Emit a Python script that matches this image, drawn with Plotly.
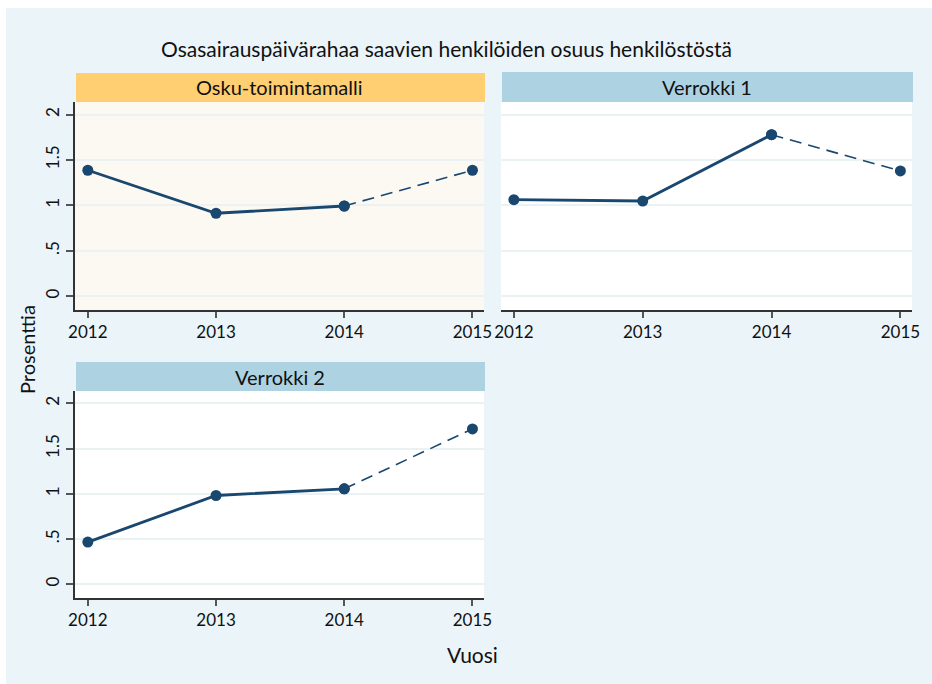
import plotly.graph_objects as go

W, H = 932, 684
years = [2012, 2013, 2014, 2015]
panels = ["Osku-toimintamalli", "Verrokki 1", "Verrokki 2"]
osku = [1.386, 0.912, 0.992, 1.386]
verrokki1 = [1.062, 1.047, 1.778, 1.378]
verrokki2 = [0.465, 0.981, 1.055, 1.718]
series = [osku, verrokki1, verrokki2]
ytick_vals = [0, 0.5, 1, 1.5, 2]
ytick_text = ["0", ".5", "1", "1.5", "2"]

NAVY = "#1a476f"
FONT = "Lato"
DARK = "#111111"

def px(x):
    return x / W

def py(y):
    return 1 - y / H

fig = go.Figure()

# panel geometry in pixels: (x0, x1, ytop, ybottom, strip_top)
geo = [
    (75, 484, 102, 310, 73),
    (501, 912, 102, 310, 72),
    (75, 484, 391, 598, 362),
]
strip_colors = ["#FFCF72", "#ADD3E3", "#ADD3E3"]
plot_bgs = ["#FCF9F3", "#FFFFFF", "#FFFFFF"]

shapes = [dict(type="rect", xref="paper", yref="paper", x0=px(6), x1=1, y0=0, y1=py(8),
               fillcolor="#EAF4F9", line=dict(width=0), layer="below")]
annotations = []

for i, (name, vals) in enumerate(zip(panels, series)):
    n = "" if i == 0 else str(i + 1)
    xa = "x" + n
    ya = "y" + n
    x0, x1, yt, yb, st = geo[i]
    shapes.append(dict(type="rect", xref="paper", yref="paper", x0=px(x0), x1=px(x1),
                       y0=py(yb), y1=py(yt), fillcolor=plot_bgs[i], line=dict(width=0), layer="below"))
    shapes.append(dict(type="rect", xref="paper", yref="paper", x0=px(x0 + 1), x1=px(x1 + 1),
                       y0=py(yt), y1=py(st), fillcolor=strip_colors[i], line=dict(width=0)))
    annotations.append(dict(text=name, xref="paper", yref="paper", x=px((x0 + x1) / 2),
                            y=py((st + yt) / 2), showarrow=False, xanchor="center", yanchor="middle",
                            font=dict(family=FONT, size=20, color="#111111")))
    fig.add_trace(go.Scatter(x=years[:3], y=vals[:3], mode="lines+markers", xaxis=xa, yaxis=ya,
                             line=dict(color=NAVY, width=2.8), marker=dict(color=NAVY, size=11),
                             showlegend=False, cliponaxis=False))
    fig.add_trace(go.Scatter(x=years[2:], y=vals[2:], mode="lines+markers", xaxis=xa, yaxis=ya,
                             line=dict(color=NAVY, width=1.6, dash="12px,7px"),
                             marker=dict(color=NAVY, size=11),
                             showlegend=False, cliponaxis=False))
    show_y = i != 1
    fig.layout["xaxis" + n] = dict(
        domain=[px(x0), px(x1)], anchor=ya, range=[2011.9, 2015.09], automargin=False,
        tickvals=years, ticktext=[str(y) for y in years],
        showgrid=False, zeroline=False, showline=True, linecolor="#333333", linewidth=1.5,
        ticks="outside", ticklen=6, tickcolor="#555555", tickwidth=1.5,
        tickfont=dict(family=FONT, size=17, color=DARK), fixedrange=True)
    fig.layout["yaxis" + n] = dict(
        domain=[py(yb), py(yt)], anchor=xa, range=[-0.154, 2.138], automargin=False,
        tickvals=ytick_vals, ticktext=ytick_text, tickangle=-90,
        showgrid=True, gridcolor="#EAF2F3", gridwidth=1.5, zeroline=False,
        showline=show_y, linecolor="#333333", linewidth=1.5,
        ticks="outside" if show_y else "", ticklen=7, tickcolor="#555555", tickwidth=1.5,
        showticklabels=show_y,
        tickfont=dict(family=FONT, size=17, color=DARK), fixedrange=True)

annotations.append(dict(text="Osasairauspäivärahaa saavien henkilöiden osuus henkilöstöstä",
                        xref="paper", yref="paper", x=px(446), y=py(48), showarrow=False,
                        xanchor="center", yanchor="middle",
                        font=dict(family=FONT, size=21, color="#111111")))
annotations.append(dict(text="Prosenttia", xref="paper", yref="paper", x=px(27), y=py(350),
                        showarrow=False, textangle=-90, xanchor="center", yanchor="middle",
                        font=dict(family=FONT, size=20, color="#111111")))
annotations.append(dict(text="Vuosi", xref="paper", yref="paper", x=px(472), y=py(654),
                        showarrow=False, xanchor="center", yanchor="middle",
                        font=dict(family=FONT, size=21, color="#111111")))

fig.update_layout(width=W, height=H, margin=dict(l=0, r=0, t=0, b=0, pad=0, autoexpand=False),
                  paper_bgcolor="#FFFFFF", plot_bgcolor="rgba(0,0,0,0)",
                  shapes=shapes, annotations=annotations)

fig.write_html("out.html", config={"displayModeBar": False, "responsive": False},
               post_script="document.documentElement.style.margin='0';document.body.style.margin='0';document.body.style.padding='0';document.body.style.overflow='hidden';")
